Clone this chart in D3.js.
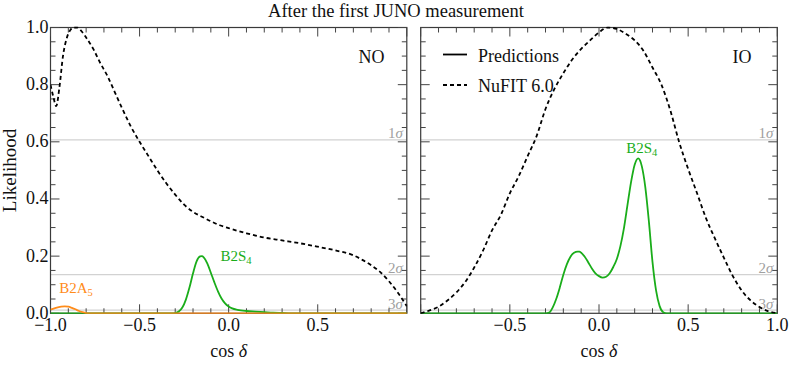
<!DOCTYPE html>
<html>
<head>
<meta charset="utf-8">
<script src="https://cdn.jsdelivr.net/npm/d3@7"></script>
<style>
	body { margin: 0; background: #fff; }
	svg text { font-family: 'Liberation Serif', 'Times New Roman', serif; fill: #111; }
</style>
</head>
<body>
<svg id="chart" width="793" height="366"></svg>
<script>
// values: x = cos(delta), y = likelihood

// NO panel, NuFIT 6.0 (dashed)
var noNufitCos = [-1.0, -0.985, -0.968, -0.95, -0.93, -0.91, -0.89, -0.87, -0.85, -0.83, -0.80, -0.76, -0.72, -0.68, -0.64, -0.60, -0.55, -0.50, -0.45, -0.40, -0.35, -0.30, -0.25, -0.20, -0.15, -0.10, -0.05, 0.0, 0.1, 0.2, 0.3, 0.4, 0.5, 0.6, 0.7, 0.75, 0.8, 0.85, 0.9, 0.95, 1.0];
var noNufitL   = [0.80, 0.76, 0.725, 0.79, 0.90, 0.96, 0.99, 1.0, 1.0, 0.99, 0.965, 0.925, 0.875, 0.83, 0.775, 0.72, 0.655, 0.60, 0.55, 0.50, 0.455, 0.415, 0.38, 0.355, 0.338, 0.322, 0.308, 0.298, 0.28, 0.265, 0.255, 0.245, 0.233, 0.22, 0.203, 0.187, 0.168, 0.145, 0.112, 0.072, 0.025];

// NO panel, B2S4 prediction (green)
var noB2S4Cos = [-1.0, -0.32, -0.30, -0.28, -0.26, -0.24, -0.22, -0.20, -0.18, -0.16, -0.15, -0.14, -0.12, -0.10, -0.08, -0.06, -0.04, -0.02, 0.0, 0.02, 0.05, 0.1, 0.15, 0.2, 0.25, 0.3, 0.35, 1.0];
var noB2S4L   = [0, 0, 0.001, 0.006, 0.02, 0.048, 0.09, 0.14, 0.182, 0.199, 0.2, 0.196, 0.175, 0.142, 0.108, 0.077, 0.052, 0.035, 0.024, 0.017, 0.012, 0.008, 0.006, 0.004, 0.002, 0.001, 0, 0];

// NO panel, B2A5 prediction (orange)
var noB2A5Cos = [-1.0, -0.97, -0.94, -0.92, -0.90, -0.88, -0.86, -0.84, -0.82, -0.80, -0.78, 1.0];
var noB2A5L   = [0.013, 0.019, 0.023, 0.024, 0.023, 0.019, 0.014, 0.008, 0.004, 0.001, 0, 0];

// IO panel, NuFIT 6.0 (dashed)
var ioNufitCos = [-1.0, -0.95, -0.90, -0.85, -0.80, -0.75, -0.70, -0.65, -0.60, -0.55, -0.50, -0.45, -0.40, -0.35, -0.30, -0.25, -0.20, -0.15, -0.10, -0.05, 0.0, 0.05, 0.10, 0.15, 0.20, 0.25, 0.30, 0.35, 0.40, 0.45, 0.50, 0.55, 0.60, 0.65, 0.70, 0.75, 0.80, 0.85, 0.90, 0.95, 1.0];
var ioNufitL   = [0.0, 0.01, 0.023, 0.045, 0.073, 0.11, 0.16, 0.22, 0.29, 0.345, 0.42, 0.48, 0.55, 0.62, 0.715, 0.785, 0.84, 0.888, 0.925, 0.955, 0.983, 1.0, 0.995, 0.978, 0.955, 0.918, 0.86, 0.80, 0.71, 0.598, 0.505, 0.42, 0.333, 0.262, 0.195, 0.131, 0.08, 0.045, 0.022, 0.007, 0.0];

// IO panel, B2S4 prediction (green)
var ioB2S4Cos = [-1.0, -0.30, -0.28, -0.26, -0.24, -0.22, -0.20, -0.18, -0.16, -0.14, -0.12, -0.11, -0.10, -0.08, -0.06, -0.04, -0.02, 0.0, 0.02, 0.04, 0.06, 0.08, 0.10, 0.12, 0.14, 0.16, 0.18, 0.20, 0.22, 0.23, 0.24, 0.26, 0.28, 0.30, 0.32, 0.34, 0.36, 0.38, 1.0];
var ioB2S4L   = [0, 0, 0.002, 0.02, 0.05, 0.09, 0.135, 0.172, 0.198, 0.212, 0.216, 0.216, 0.212, 0.198, 0.178, 0.157, 0.14, 0.13, 0.125, 0.128, 0.14, 0.162, 0.19, 0.235, 0.298, 0.38, 0.46, 0.52, 0.542, 0.535, 0.515, 0.44, 0.32, 0.18, 0.08, 0.025, 0.004, 0, 0];

// confidence levels (1, 2, 3 sigma)
var sigmaNames  = ['1', '2', '3'];
var sigmaLevels = [0.6065, 0.1353, 0.0111];

var xMajor = [-1, -0.5, 0, 0.5, 1];
var yMajor = [0, 0.2, 0.4, 0.6, 0.8, 1.0];

var GREEN = '#1aad1a', ORANGE = '#ff8c1a';

var svg = d3.select('#chart');
var top0 = 27.5, bottom0 = 313.3;
var fmt = d3.format('.1f');

function zip(xs, ys) {
	return xs.map(function(x, i) { return [x, ys[i]]; });
}

function drawPanel(opts) {
	var x = d3.scaleLinear().domain([-1, 1]).range([opts.left, opts.right]);
	var y = d3.scaleLinear().domain([0, 1]).range([bottom0, top0]);
	var g = svg.append('g');

	var clipId = 'clip-' + opts.name;
	svg.append('clipPath').attr('id', clipId)
		.append('rect')
		.attr('x', opts.left).attr('y', top0 - 1)
		.attr('width', opts.right - opts.left).attr('height', bottom0 - top0 + 1.5);

	// sigma lines + labels
	g.selectAll('.sig').data(sigmaLevels).enter().append('line')
		.attr('x1', opts.left).attr('x2', opts.right)
		.attr('y1', function(d) { return y(d); })
		.attr('y2', function(d) { return y(d); })
		.attr('stroke', '#d2d2d2').attr('stroke-width', 1.3);

	var sl = g.selectAll('.siglab').data(sigmaLevels).enter().append('text')
		.attr('x', opts.right - 4)
		.attr('y', function(d) { return y(d) - 1.5; })
		.attr('text-anchor', 'end')
		.style('font-size', '15px').style('fill', '#a0a0a0');
	sl.append('tspan').text(function(d, i) { return sigmaNames[i]; });
	sl.append('tspan').style('font-style', 'italic').text('σ');

	// frame
	g.append('rect')
		.attr('x', opts.left).attr('y', top0)
		.attr('width', opts.right - opts.left).attr('height', bottom0 - top0)
		.attr('fill', 'none').attr('stroke', '#3a3a3a').attr('stroke-width', 1.2);

	// ticks, inward on all four sides
	var xMinor = d3.range(-10, 11).map(function(k) { return k / 10; });
	var yMinor = d3.range(0, 21).map(function(k) { return k / 20; });
	function isMajor(v, list) {
		return list.some(function(m) { return Math.abs(m - v) < 1e-6; });
	}
	xMinor.forEach(function(v) {
		var len = isMajor(v, xMajor) ? 9 : 5;
		g.append('line').attr('x1', x(v)).attr('x2', x(v))
			.attr('y1', bottom0).attr('y2', bottom0 - len)
			.attr('stroke', '#444').attr('stroke-width', 1);
		g.append('line').attr('x1', x(v)).attr('x2', x(v))
			.attr('y1', top0).attr('y2', top0 + len)
			.attr('stroke', '#444').attr('stroke-width', 1);
	});
	yMinor.forEach(function(v) {
		var len = isMajor(v, yMajor) ? 9 : 5;
		g.append('line').attr('x1', opts.left).attr('x2', opts.left + len)
			.attr('y1', y(v)).attr('y2', y(v))
			.attr('stroke', '#444').attr('stroke-width', 1);
		g.append('line').attr('x1', opts.right).attr('x2', opts.right - len)
			.attr('y1', y(v)).attr('y2', y(v))
			.attr('stroke', '#444').attr('stroke-width', 1);
	});

	// tick labels
	g.selectAll('.xl').data(opts.xLabels).enter().append('text')
		.attr('x', function(d) { return x(d); })
		.attr('y', 331)
		.attr('text-anchor', 'middle')
		.style('font-size', '18px')
		.text(function(d) { return fmt(d); });

	if (opts.yLabels) {
		g.selectAll('.yl').data(yMajor).enter().append('text')
			.attr('x', opts.left - 2)
			.attr('y', function(d) { return y(d); })
			.attr('dy', '0.3em')
			.attr('text-anchor', 'end')
			.style('font-size', '18px')
			.text(function(d) { return fmt(d); });
	}

	// x label
	var xl = g.append('text')
		.attr('x', (opts.left + opts.right) / 2).attr('y', 357)
		.attr('text-anchor', 'middle').style('font-size', '18px');
	xl.append('tspan').text('cos ');
	xl.append('tspan').style('font-style', 'italic').text('δ');

	// curves
	var line = d3.line()
		.x(function(d) { return x(d[0]); })
		.y(function(d) { return y(d[1]); })
		.curve(d3.curveMonotoneX);

	var curves = g.append('g').attr('clip-path', 'url(#' + clipId + ')');
	opts.series.forEach(function(s) {
		curves.append('path')
			.datum(zip(s.xs, s.ys))
			.attr('d', line)
			.attr('fill', 'none')
			.attr('stroke', s.color)
			.attr('stroke-width', 1.8)
			.attr('stroke-dasharray', s.dashed ? '4,3' : null);
	});

	// panel tag (NO / IO)
	g.append('text')
		.attr('x', opts.tagX).attr('y', 63)
		.attr('text-anchor', 'middle').style('font-size', '18px')
		.text(opts.name);

	// curve labels
	opts.labels.forEach(function(l) {
		var t = g.append('text')
			.attr('x', l.x).attr('y', l.y)
			.attr('text-anchor', 'middle')
			.style('font-size', '15px').style('fill', l.color);
		t.append('tspan').text(l.text);
		t.append('tspan').attr('dy', '0.3em').style('font-size', '10.5px').text(l.sub);
	});
}

drawPanel({
	name: 'NO', left: 50.5, right: 406.8, tagX: 371.5,
	xLabels: [-1, -0.5, 0, 0.5], yLabels: true,
	series: [
		{ xs: noB2S4Cos, ys: noB2S4L, color: GREEN },
		{ xs: noB2A5Cos, ys: noB2A5L, color: ORANGE },
		{ xs: noNufitCos, ys: noNufitL, color: '#000', dashed: true }
	],
	labels: [
		{ text: 'B2A', sub: '5', x: 76, y: 293, color: ORANGE },
		{ text: 'B2S', sub: '4', x: 236, y: 260.7, color: GREEN }
	]
});

drawPanel({
	name: 'IO', left: 420.7, right: 777.3, tagX: 742,
	xLabels: [-0.5, 0, 0.5, 1], yLabels: false,
	series: [
		{ xs: ioB2S4Cos, ys: ioB2S4L, color: GREEN },
		{ xs: ioNufitCos, ys: ioNufitL, color: '#000', dashed: true }
	],
	labels: [
		{ text: 'B2S', sub: '4', x: 641.7, y: 153.3, color: GREEN }
	]
});

// legend (inside IO panel)
var legend = svg.append('g');
var legendItems = [{ text: 'Predictions', dashed: false, y: 54.5 }, { text: 'NuFIT 6.0', dashed: true, y: 85 }];
legendItems.forEach(function(d) {
	legend.append('line')
		.attr('x1', 443).attr('x2', 467).attr('y1', d.y).attr('y2', d.y)
		.attr('stroke', '#000').attr('stroke-width', 1.8)
		.attr('stroke-dasharray', d.dashed ? '4,3' : null);
	legend.append('text')
		.attr('x', 478).attr('y', d.y + 7)
		.style('font-size', '18px')
		.text(d.text);
});

// title + y label
svg.append('text')
	.attr('x', 396).attr('y', 17)
	.attr('text-anchor', 'middle').style('font-size', '18.5px')
	.text('After the first JUNO measurement');

svg.append('text')
	.attr('transform', 'translate(16,170.5) rotate(-90)')
	.attr('text-anchor', 'middle').style('font-size', '19px')
	.text('Likelihood');
</script>
</body>
</html>
